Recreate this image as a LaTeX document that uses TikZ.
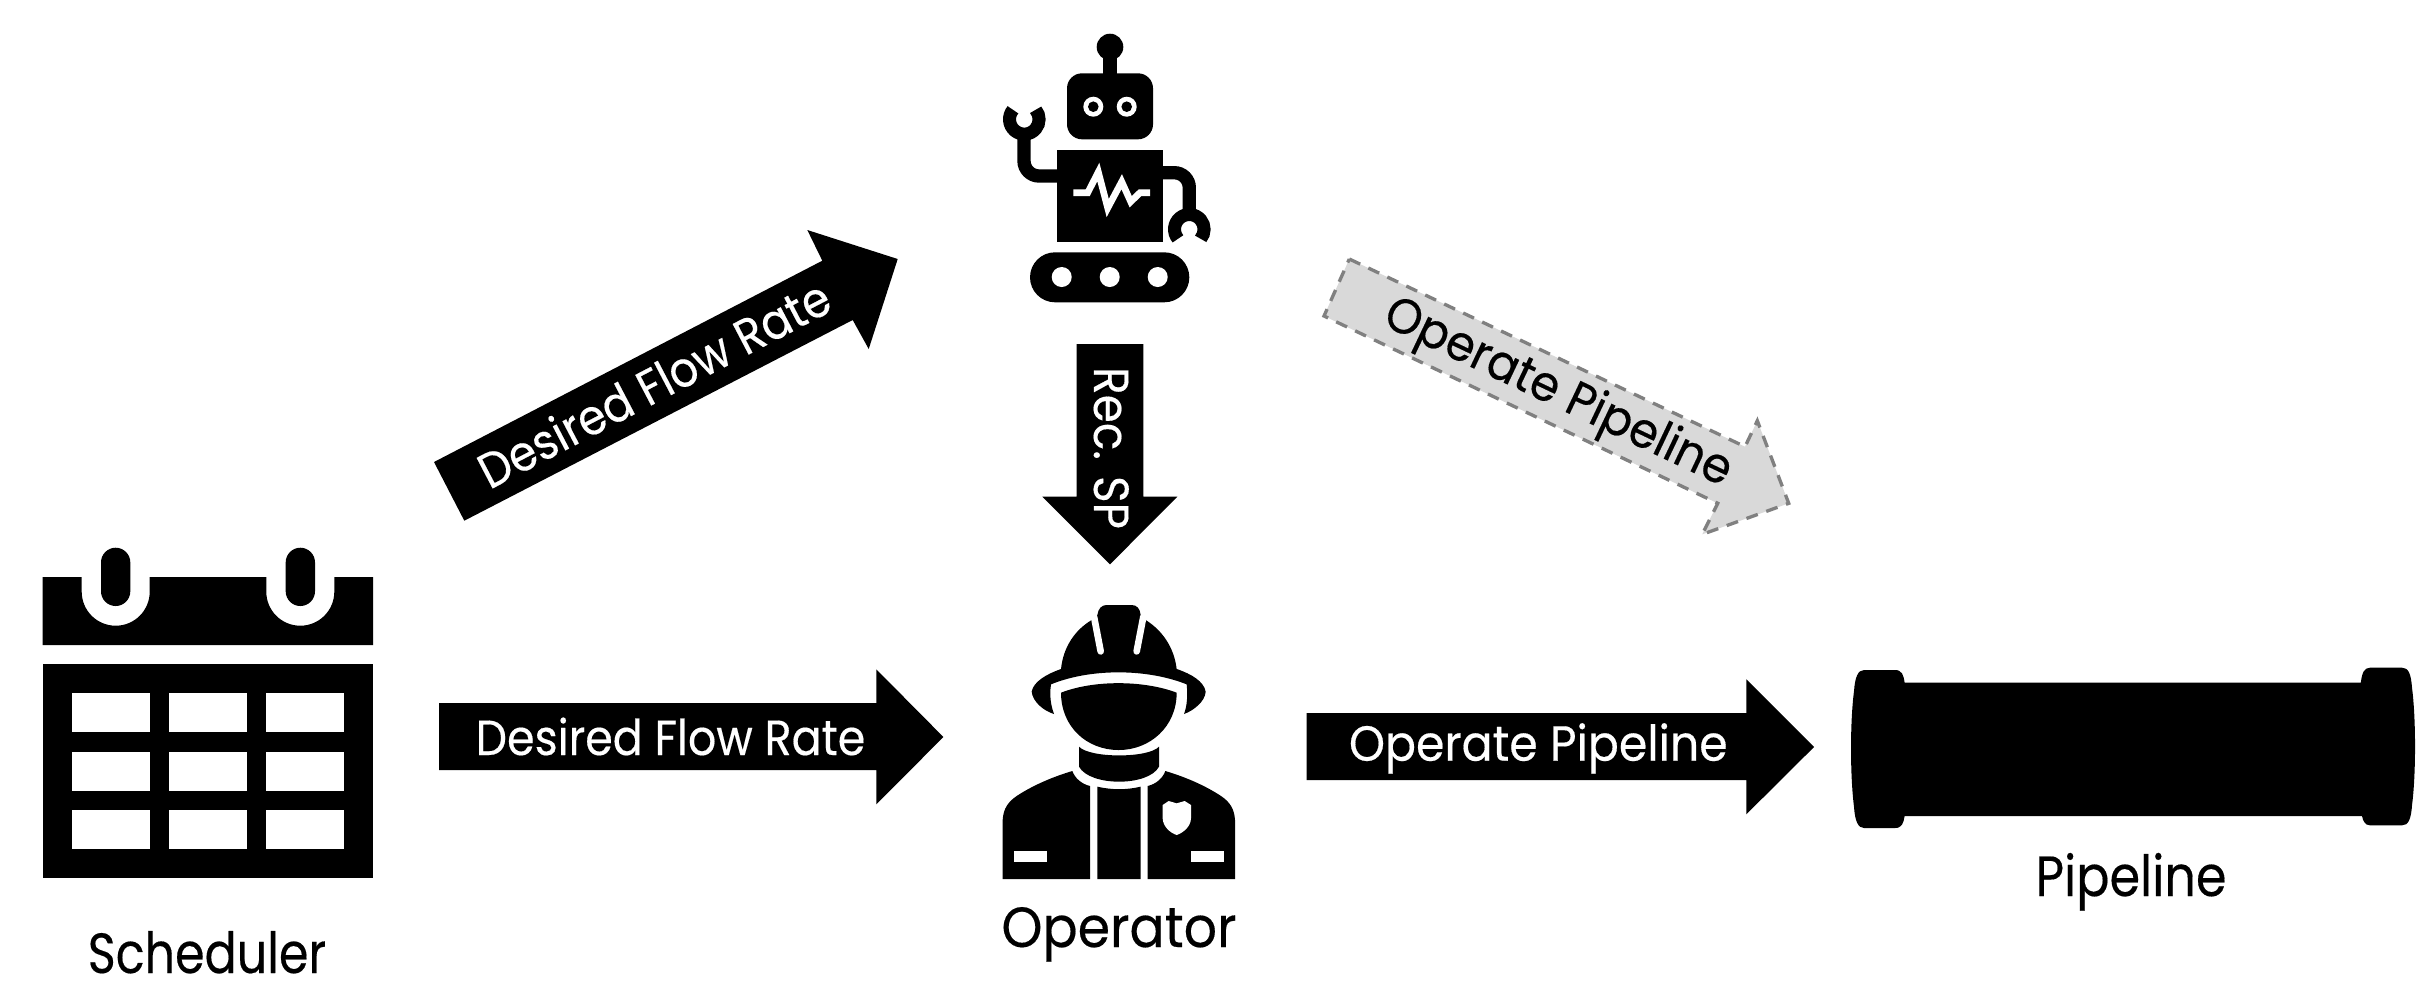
\documentclass[tikz,border=0pt]{standalone}
\usepackage{fontspec}
\setmainfont{Poppins}
\newfontfamily\flowfont[FakeStretch=0.90,FakeBold=0.3]{Poppins}
\newfontfamily\operfont[FakeStretch=0.93,FakeBold=0.3]{Poppins}
\newfontfamily\recfont[FakeStretch=0.92,FakeBold=0.3]{Poppins}
\newfontfamily\schedfont[FakeStretch=0.84,FakeBold=0.3]{Poppins}
\newfontfamily\opcapfont[FakeStretch=0.92,FakeBold=0.3]{Poppins}
\newfontfamily\pipefont[FakeStretch=0.87,FakeBold=0.3]{Poppins}
\tikzset{
  ink/.style={fill=black,draw=none},
  hole/.style={fill=white,draw=none},
  limb/.style={draw=black,line width=4pt,rounded corners=4.5pt},
  claw/.style={draw=black,line width=3.9pt},
  slit/.style={draw=white,line width=2pt,line cap=round},
  beat/.style={draw=white,line width=2pt,miter limit=10},
  inlabel/.style={text=white,anchor=base,inner sep=0pt},
  inlabelk/.style={text=black,anchor=base,inner sep=0pt},
  caption/.style={text=black,anchor=base,inner sep=0pt},
  ghost/.style={fill=black!15,draw=black!50,line width=1pt,dash pattern=on 3.6pt off 2.7pt}
}
\newcommand{\insize}{\fontsize{14.8}{17}\selectfont}
\newcommand{\capsize}{\fontsize{17}{20}\selectfont}
\begin{document}
\begin{tikzpicture}[x=0.3pt,y=0.3pt,yscale=-1]
\useasboundingbox (0,0) rectangle (2430,986);
\fill[white] (0,0) rectangle (2430,986);

% Calendar
\fill[ink] (42.7,577) -- (81.7,577) -- (81.7,591.7) arc[start angle=180,end angle=0,radius=34] -- (149.7,577)
  -- (266.3,577) -- (266.3,591.7) arc[start angle=180,end angle=0,radius=34] -- (334.3,577)
  -- (373,577) -- (373,645) -- (42.7,645) -- cycle;
\fill[ink,rounded corners=4.4pt] (101,547.7) rectangle (130.3,606);
\fill[ink,rounded corners=4.4pt] (285.7,547.7) rectangle (315,606);
\fill[ink] (42.7,664.3) rectangle (373,878);
\foreach \xa/\xb in {72/149.7,169/247,266/344}
  \foreach \ya/\yb in {693.3/732.3,751.7/790.7,810/849}
    \fill[hole] (\xa,\ya) rectangle (\xb,\yb);
\node[caption,font=\schedfont\capsize] (scheduler) at (207,973) {Scheduler};

% Robot
\fill[ink] (1110,47) circle[radius=13.3];
\fill[ink] (1103.3,50) rectangle (1116.7,80);
\fill[ink,rounded corners=4.5pt] (1067,73.3) rectangle (1153,139.3);
\fill[hole] (1093.3,106.7) circle[radius=10];
\fill[ink] (1093.3,106.7) circle[radius=5.3];
\fill[hole] (1126.7,106.7) circle[radius=10];
\fill[ink] (1126.7,106.7) circle[radius=5.3];
\fill[ink] (1057,149.7) rectangle (1163,242.3);
\draw[beat] (1073.3,192.7) -- (1087.7,192.7) -- (1098.3,172) -- (1107.7,208) -- (1121.7,181.7) -- (1130.7,201.7) -- (1140,192.7) -- (1150,192.7);
\draw[limb] (1024,130) -- (1024,176) -- (1060,176);
\draw[limb] (1160,172.7) -- (1189.3,172.7) -- (1189.3,215);
\draw[claw] (1024.3,119.3) ++(-140:14.8) arc[start angle=-140,end angle=-400,radius=14.8];
\draw[claw] (1189.3,229.3) ++(140:14.8) arc[start angle=140,end angle=400,radius=14.8];
\fill[ink,rounded corners=7.5pt] (1030,252.3) rectangle (1189.3,302.3);
\foreach \cx in {1061.7,1109.7,1157.7}
  \fill[hole] (\cx,277) circle[radius=10];

% Operator
\begin{scope}[shift={(980,590)},scale=1/3]
\fill[ink] (155,305) .. controls (160,275) and (200,252) .. (243,237)
  .. controls (250,170) and (285,120) .. (335,90)
  -- (352,75) .. controls (355,55) and (365,45) .. (380,45) -- (455,45)
  .. controls (470,45) and (480,55) .. (482,75) -- (497,90)
  .. controls (545,120) and (582,170) .. (590,237)
  .. controls (635,252) and (672,275) .. (677,305)
  .. controls (675,335) and (640,362) .. (612,372)
  .. controls (622,345) and (623,315) .. (620,283)
  .. controls (500,235) and (330,235) .. (213,283)
  .. controls (208,315) and (212,345) .. (222,372)
  .. controls (190,362) and (158,335) .. (155,305) -- cycle;
\draw[slit] (342,80) -- (362,184);
\draw[slit] (490,80) -- (470,184);
\fill[ink] (243,308) .. controls (340,270) and (490,270) .. (590,308)
  .. controls (590,410) and (510,480) .. (416,480)
  .. controls (320,480) and (243,410) .. (243,308) -- cycle;
\fill[ink] (297,470) .. controls (330,505) and (505,505) .. (537,470)
  -- (537,530) .. controls (505,590) and (330,590) .. (297,530) -- cycle;
\fill[ink] (68,867) -- (68,690) .. controls (70,655) and (85,635) .. (110,618)
  .. controls (160,585) and (220,560) .. (277,543)
  .. controls (285,565) and (305,582) .. (330,588) -- (330,867) -- cycle;
\fill[ink] (352,590) .. controls (395,600) and (440,600) .. (482,590) -- (482,867) -- (352,867) -- cycle;
\fill[ink] (765,867) -- (765,690) .. controls (763,655) and (748,635) .. (723,618)
  .. controls (673,585) and (613,560) .. (556,543)
  .. controls (548,565) and (528,582) .. (503,588) -- (503,867) -- cycle;
\fill[hole] (101,782) rectangle (200,815);
\fill[hole] (634,782) rectangle (733,815);
\fill[hole] (548,645) -- (566,633) -- (590,640) -- (614,633) -- (633,645)
  -- (633,685) .. controls (632,710) and (610,728) .. (590,735)
  .. controls (570,728) and (549,710) .. (548,685) -- cycle;
\end{scope}
\node[caption,font=\opcapfont\capsize] (operator) at (1119,947) {Operator};

% Pipeline
\fill[ink] (1904.6,682.7) -- (2360.8,682.7)
  .. controls (2362,673) and (2364,667.7) .. (2370,667.7) -- (2402,667.7)
  .. controls (2408,667.7) and (2411,673) .. (2412,688)
  .. controls (2416,718) and (2416,775) .. (2412,805)
  .. controls (2411,820) and (2408,825.3) .. (2402,825.3) -- (2370,825.3)
  .. controls (2365,825.3) and (2363,821) .. (2362,816)
  -- (1904.6,816)
  .. controls (1903.5,823) and (1902,828) .. (1895,828) -- (1864,828)
  .. controls (1858,828) and (1855,821) .. (1854,807)
  .. controls (1850,775) and (1850,722) .. (1854,691)
  .. controls (1855,677) and (1858,670) .. (1864,670) -- (1895,670)
  .. controls (1902,670) and (1903.5,675) .. (1904.6,682.7) -- cycle;
\node[caption,font=\pipefont\capsize] (pipeline) at (2131,896) {Pipeline};

% Block arrows
\fill[ink] (434,462) -- (822.3,260.7) -- (807.3,230) -- (897.7,259) -- (868.7,349) -- (852.7,320) -- (464.3,520.7) -- cycle;
\node[inlabel,font=\flowfont\insize,rotate=27.6] (flowup) at (662.3,399.7) {Desired Flow Rate};

\fill[ink] (439,703) -- (876.3,703) -- (876.3,669.3) -- (943.4,737) -- (876.3,804.3) -- (876.3,770) -- (439,770) -- cycle;
\node[inlabel,font=\flowfont\insize] (flowop) at (670.5,755) {Desired Flow Rate};

\fill[ink] (1306.5,713) -- (1746.3,713) -- (1746.3,679.3) -- (1814,747) -- (1746.3,814.3) -- (1746.3,780) -- (1306.5,780) -- cycle;
\node[inlabel,font=\operfont\insize] (oppipe) at (1538.3,760.7) {Operate Pipeline};

\fill[ink] (1076.7,344) -- (1143.3,344) -- (1143.3,496.7) -- (1177.3,496.7) -- (1110,564.3) -- (1042.3,496.7) -- (1076.7,496.7) -- cycle;
\node[inlabel,font=\recfont\insize,rotate=-90] (recsp) at (1094,448) {Rec. SP};

\path[ghost] (1349.3,259) -- (1745,446.7) -- (1757.3,420.7) -- (1788.7,503.3) -- (1702.3,534.3) -- (1717.7,503.3) -- (1324,316) -- cycle;
\node[inlabelk,font=\operfont\insize,rotate=-25.4] (ghostlabel) at (1552,405.5) {Operate Pipeline};
\end{tikzpicture}
\end{document}
